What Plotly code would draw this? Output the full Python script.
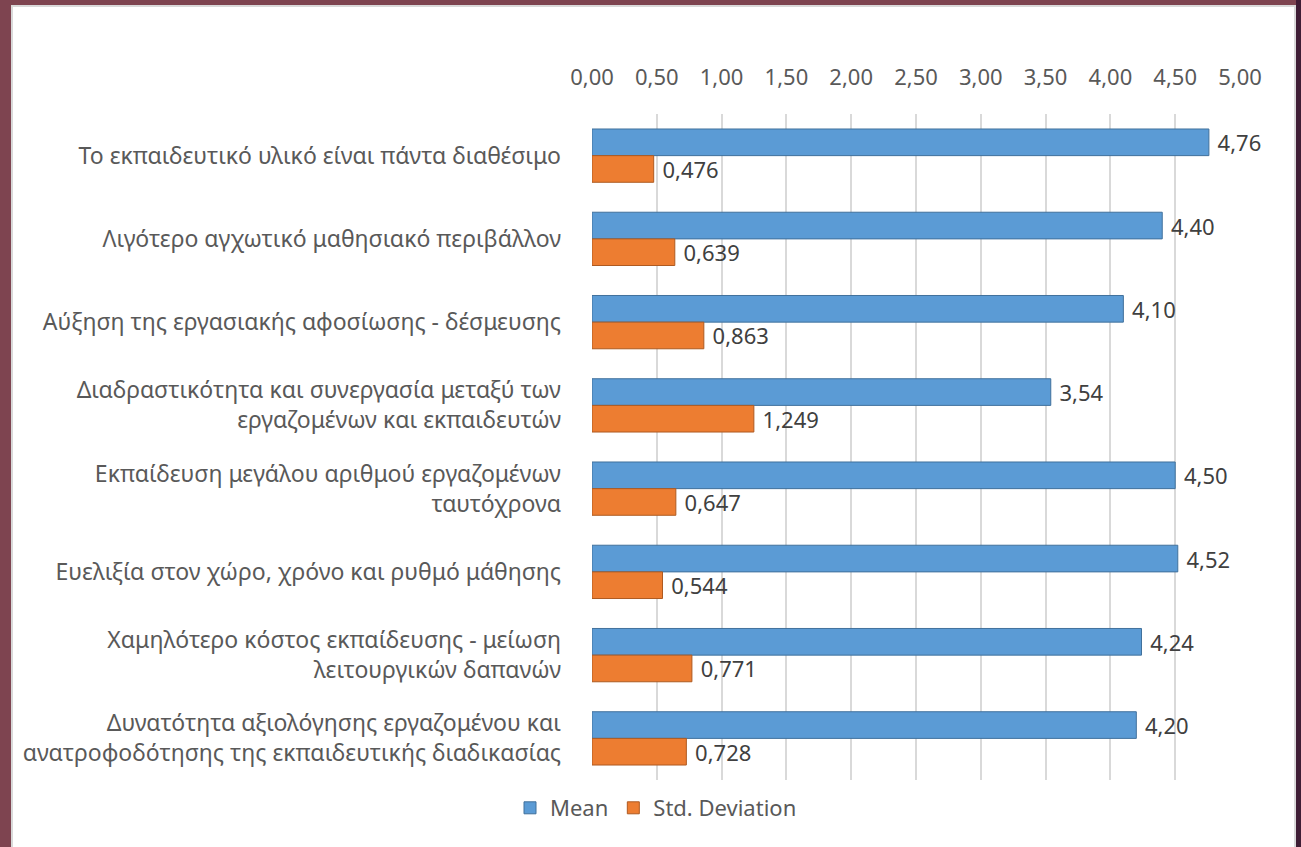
import plotly.graph_objects as go

categories = [
    "Το εκπαιδευτικό υλικό είναι πάντα διαθέσιμο",
    "Λιγότερο αγχωτικό μαθησιακό περιβάλλον",
    "Αύξηση της εργασιακής αφοσίωσης - δέσμευσης",
    "Διαδραστικότητα και συνεργασία μεταξύ των<br>εργαζομένων και εκπαιδευτών",
    "Εκπαίδευση μεγάλου αριθμού εργαζομένων<br>ταυτόχρονα",
    "Ευελιξία στον χώρο, χρόνο και ρυθμό μάθησης",
    "Χαμηλότερο κόστος εκπαίδευσης - μείωση<br>λειτουργικών δαπανών",
    "Δυνατότητα αξιολόγησης εργαζομένου και<br>ανατροφοδότησης της εκπαιδευτικής διαδικασίας",
]
mean_vals = [4.76, 4.40, 4.10, 3.54, 4.50, 4.52, 4.24, 4.20]
std_vals = [0.476, 0.639, 0.863, 1.249, 0.647, 0.544, 0.771, 0.728]
series_names = ["Mean", "Std. Deviation"]
tick_vals = [0, 0.5, 1, 1.5, 2, 2.5, 3, 3.5, 4, 4.5, 5]

W, H = 1301, 847
L, R, T, B = 592, 1240, 114, 780
pw, ph = R - L, B - T

def px_x(p):
    return (p - L) / pw

def px_y(p):
    return (B - p) / ph

FONT = "Noto Sans"
FS = 22
CAT_FS = 23

fig = go.Figure()
fig.add_trace(go.Bar(
    y=categories, x=mean_vals, name=series_names[0], orientation="h",
    marker=dict(color="#5B9BD5", line=dict(color="#41719C", width=1)),
    texttemplate="\u00a0%{x:.2f}", textposition="outside", constraintext="none",
    textfont=dict(size=FS, color="#404040", family=FONT), cliponaxis=False,
))
fig.add_trace(go.Bar(
    y=categories, x=std_vals, name=series_names[1], orientation="h",
    marker=dict(color="#ED7D31", line=dict(color="#AE5A21", width=1)),
    texttemplate="\u00a0%{x:.3f}", textposition="outside", constraintext="none",
    textfont=dict(size=FS, color="#404040", family=FONT), cliponaxis=False,
))

shapes = [
    dict(type="rect", xref="paper", yref="paper", layer="below",
         x0=px_x(12), x1=px_x(1295), y0=px_y(6), y1=px_y(860),
         fillcolor="white", line=dict(color="#d9d9d9", width=2)),
    dict(type="rect", xref="paper", yref="paper", layer="below",
         x0=px_x(1296), x1=px_x(1310), y0=px_y(-5), y1=px_y(860),
         fillcolor="#3f1d35", line=dict(width=0)),
]

fig.update_layout(
    width=W, height=H,
    margin=dict(l=L, r=W - R, t=T, b=H - B, autoexpand=False),
    paper_bgcolor="#7e4450", plot_bgcolor="white",
    separators=",.",
    barmode="group", bargap=0.36, bargroupgap=0.0,
    font=dict(family=FONT, color="#595959", size=FS),
    shapes=shapes,
    showlegend=True,
    legend=dict(orientation="h", x=px_x(510), y=px_y(808), xanchor="left", yanchor="middle",
                font=dict(size=FS, color="#595959"), bgcolor="rgba(0,0,0,0)",
                itemwidth=30, traceorder="normal"),
    xaxis=dict(side="top", range=[0, 5], tickvals=tick_vals, tickformat=".2f",
               showgrid=True, gridcolor="#d9d9d9", gridwidth=2, zeroline=False,
               showline=False, ticks="", ticklabelstandoff=24,
               tickfont=dict(size=FS, color="#595959")),
    yaxis=dict(autorange="reversed", showgrid=False, zeroline=False, showline=False,
               ticks="", ticklabelstandoff=30, tickfont=dict(size=CAT_FS, color="#595959")),
)

fig.write_html("out.html", config={"displayModeBar": False},
               post_script="document.body.style.margin='0';document.body.style.overflow='hidden';")
